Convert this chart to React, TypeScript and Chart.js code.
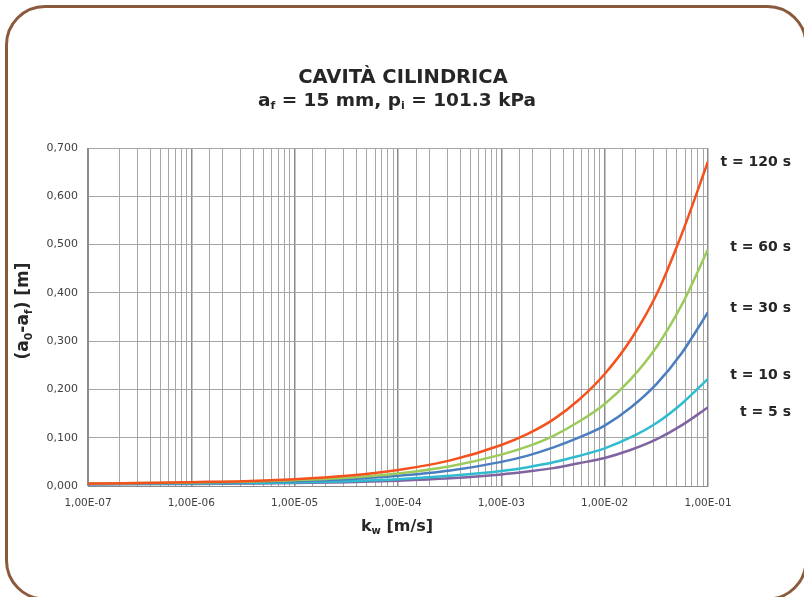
import React, { useEffect, useRef } from 'react';
import { Chart, registerables } from 'chart.js';
Chart.register(...registerables);

const kValues = [1e-7, 3.2e-7, 1e-6, 3.2e-6, 1e-5, 3.2e-5, 1e-4, 3.2e-4, 1e-3, 1.8e-3, 3.2e-3, 5.6e-3, 1e-2, 1.8e-2, 3.2e-2, 5.6e-2, 1e-1];
const t120 = [0.005, 0.006, 0.008, 0.010, 0.014, 0.021, 0.033, 0.053, 0.085, 0.108, 0.138, 0.178, 0.232, 0.304, 0.398, 0.523, 0.672];
const t60 = [0.005, 0.006, 0.007, 0.009, 0.012, 0.017, 0.026, 0.041, 0.065, 0.082, 0.104, 0.133, 0.170, 0.222, 0.289, 0.376, 0.490];
const t30 = [0.004, 0.005, 0.006, 0.008, 0.010, 0.014, 0.021, 0.032, 0.050, 0.063, 0.080, 0.100, 0.125, 0.163, 0.212, 0.276, 0.360];
const t10 = [0.004, 0.004, 0.005, 0.006, 0.007, 0.010, 0.014, 0.021, 0.031, 0.039, 0.049, 0.062, 0.078, 0.101, 0.131, 0.171, 0.222];
const t5 = [0.003, 0.004, 0.004, 0.005, 0.006, 0.008, 0.011, 0.016, 0.024, 0.030, 0.037, 0.047, 0.058, 0.075, 0.097, 0.126, 0.163];

const seriesNames = ['t = 120 s', 't = 60 s', 't = 30 s', 't = 10 s', 't = 5 s'];
const seriesColors = ['#F4511E', '#9BCB5A', '#4A7EC0', '#2FBCCF', '#8064A2'];
const seriesData = [t120, t60, t30, t10, t5];
const seriesLabelY = [162, 247, 308, 375, 412];

const titleLine1 = 'CAVITÀ CILINDRICA';
const titleLine2 = [{ t: 'a' }, { t: 'f', sub: true }, { t: ' = 15 mm, p' }, { t: 'i', sub: true }, { t: ' = 101.3 kPa' }];
const yTitle = [{ t: '(a' }, { t: '0', sub: true }, { t: '-a' }, { t: 'f', sub: true }, { t: ') [m]' }];
const xTitle = [{ t: 'k' }, { t: 'w', sub: true }, { t: ' [m/s]' }];

const FONT = '"DejaVu Sans", sans-serif';
const TEXT = '#262626';

type Part = { t: string; sub?: boolean };

function drawRich(ctx: CanvasRenderingContext2D, parts: Part[], x: number, y: number, size: number, rotate = false) {
  const subSize = Math.round(size * 0.62);
  const widths = parts.map((p) => {
    ctx.font = `bold ${p.sub ? subSize : size}px ${FONT}`;
    return ctx.measureText(p.t).width;
  });
  const total = widths.reduce((a, b) => a + b, 0);
  ctx.save();
  ctx.translate(x, y);
  if (rotate) ctx.rotate(-Math.PI / 2);
  ctx.fillStyle = TEXT;
  ctx.textBaseline = 'middle';
  ctx.textAlign = 'left';
  let cx = -total / 2;
  parts.forEach((p, i) => {
    ctx.font = `bold ${p.sub ? subSize : size}px ${FONT}`;
    ctx.fillText(p.t, cx, p.sub ? size * 0.3 : 0);
    cx += widths[i];
  });
  ctx.restore();
}

const decorPlugin = {
  id: 'decor',
  beforeDraw(chart: any) {
    const ctx = chart.ctx as CanvasRenderingContext2D;
    ctx.save();
    ctx.fillStyle = '#ffffff';
    ctx.fillRect(0, 0, chart.width, chart.height);
    ctx.strokeStyle = '#8B5A3C';
    ctx.lineWidth = 3;
    ctx.beginPath();
    (ctx as any).roundRect(6.5, 6.5, 799.5, 592.5, 38.5);
    ctx.stroke();
    ctx.restore();
  },
  afterDraw(chart: any) {
    const ctx = chart.ctx as CanvasRenderingContext2D;
    ctx.save();
    ctx.fillStyle = TEXT;
    ctx.font = `bold 19.5px ${FONT}`;
    ctx.textAlign = 'center';
    ctx.textBaseline = 'middle';
    ctx.fillText(titleLine1, 403, 78);
    drawRich(ctx, titleLine2, 397, 101, 18.5);
    drawRich(ctx, yTitle, 24, 311, 17, true);
    drawRich(ctx, xTitle, 397, 527, 16);
    ctx.font = `bold 14px ${FONT}`;
    ctx.textAlign = 'right';
    ctx.fillStyle = TEXT;
    seriesNames.forEach((n, i) => ctx.fillText(n, 791, seriesLabelY[i]));
    ctx.restore();
  },
};

const isDecade = (v: number) => Math.abs(Math.log10(v) - Math.round(Math.log10(v))) < 1e-6;

export default function App() {
  const ref = useRef<HTMLCanvasElement>(null);
  useEffect(() => {
    if (!ref.current) return;
    const chart = new Chart(ref.current, {
      type: 'line',
      data: {
        datasets: seriesNames.map((n, i) => ({
          label: n,
          data: kValues.map((k, j) => ({ x: k, y: seriesData[i][j] })),
          borderColor: seriesColors[i],
          backgroundColor: seriesColors[i],
          borderWidth: 2.5,
          pointRadius: 0,
          cubicInterpolationMode: 'monotone' as const,
          fill: false,
        })),
      },
      options: {
        animation: false,
        responsive: false,
        devicePixelRatio: 1,
        layout: { padding: { left: 28, right: 96, top: 148, bottom: 71 } },
        plugins: { legend: { display: false }, title: { display: false }, tooltip: { enabled: false } },
        scales: {
          x: {
            type: 'logarithmic',
            min: 1e-7,
            max: 1e-1,
            afterFit: (s: any) => { s.height = 40; },
            grid: {
              color: (c: any) => (c.tick && isDecade(c.tick.value) ? '#8C8C8C' : '#A6A6A6'),
              lineWidth: (c: any) => (c.tick && isDecade(c.tick.value) ? 1.5 : 1),
              drawTicks: false,
            },
            border: { color: '#8C8C8C' },
            ticks: {
              autoSkip: false,
              maxRotation: 0,
              padding: 11,
              color: '#404040',
              font: { family: FONT, size: 10.5 },
              callback: (v: any) => {
                const n = Number(v);
                if (!isDecade(n)) return '';
                const e = Math.round(Math.log10(n));
                const sgn = e < 0 ? '-' : '+';
                return `1,00E${sgn}${String(Math.abs(e)).padStart(2, '0')}`;
              },
            },
          },
          y: {
            min: 0,
            max: 0.7,
            afterFit: (s: any) => { s.width = 60; },
            grid: { color: '#A6A6A6', lineWidth: 1, drawTicks: false },
            border: { color: '#8C8C8C' },
            ticks: {
              stepSize: 0.1,
              padding: 10,
              color: '#404040',
              font: { family: FONT, size: 11 },
              callback: (v: any) => Number(v).toFixed(3).replace('.', ','),
            },
          },
        },
      },
      plugins: [decorPlugin],
    } as any);
    return () => chart.destroy();
  }, []);
  return (
    <div style={{ position: 'fixed', left: 0, top: 0, width: 804, height: 597 }}>
      <canvas ref={ref} width={804} height={597} style={{ width: 804, height: 597, display: 'block' }} />
    </div>
  );
}
